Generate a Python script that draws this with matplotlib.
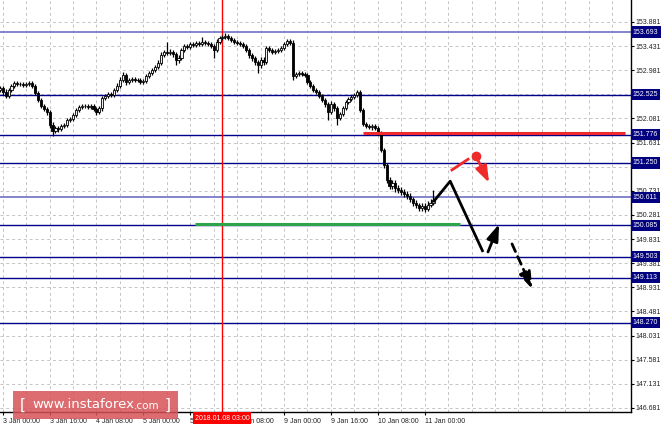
import matplotlib.pyplot as plt
from matplotlib.patches import Rectangle
import numpy as np

# H1 candles, 2 Jan 23:00 .. 11 Jan 03:00 (bar 0 = 3 Jan 00:00, weekend skipped)
first_open = 152.62
closes = [
    152.649, 152.574, 152.500, 152.612, 152.686, 152.742, 152.724, 152.724, 152.705, 152.724,
    152.742, 152.686, 152.556, 152.425, 152.313, 152.257, 152.201, 151.958, 151.846, 151.902,
    151.884, 151.940, 151.958, 152.052, 152.070, 152.145, 152.238, 152.294, 152.313, 152.313,
    152.294, 152.313, 152.257, 152.201, 152.276, 152.462, 152.500, 152.537, 152.518, 152.612,
    152.686, 152.798, 152.892, 152.761, 152.798, 152.817, 152.798, 152.798, 152.761, 152.780,
    152.873, 152.929, 152.985, 153.041, 153.116, 153.265, 153.321, 153.302, 153.321, 153.284,
    153.172, 153.209, 153.358, 153.433, 153.414, 153.470, 153.452, 153.489, 153.470, 153.508,
    153.489, 153.470, 153.433, 153.358, 153.508, 153.582, 153.601, 153.620, 153.582, 153.545,
    153.508, 153.489, 153.470, 153.433, 153.358, 153.265, 153.209, 153.134, 153.078, 153.172,
    153.134, 153.396, 153.358, 153.321, 153.340, 153.358, 153.396, 153.470, 153.526, 153.489,
    152.873, 152.910, 152.929, 152.910, 152.892, 152.761, 152.686, 152.612, 152.574, 152.500,
    152.425, 152.350, 152.201, 152.350, 152.276, 152.089, 152.164, 152.276, 152.388, 152.444,
    152.481, 152.518, 152.574, 152.238, 151.977, 151.940, 151.921, 151.940, 151.902, 151.809,
    151.492, 151.212, 150.932, 150.820, 150.876, 150.782, 150.745, 150.708, 150.670, 150.633,
    150.577, 150.502, 150.465, 150.409, 150.446, 150.390, 150.465, 150.502, 150.558,
]
upper_wick = [
    0.04, 0.03, 0.05, 0.04, 0.04, 0.03, 0.03, 0.03, 0.03, 0.03,
    0.03, 0.03, 0.03, 0.03, 0.04, 0.03, 0.03, 0.04, 0.05, 0.04,
    0.04, 0.03, 0.04, 0.03, 0.04, 0.04, 0.04, 0.03, 0.03, 0.03,
    0.03, 0.03, 0.03, 0.03, 0.04, 0.04, 0.03, 0.04, 0.03, 0.04,
    0.05, 0.05, 0.06, 0.03, 0.04, 0.03, 0.03, 0.03, 0.03, 0.03,
    0.04, 0.04, 0.04, 0.04, 0.05, 0.05, 0.04, 0.19, 0.05, 0.04,
    0.03, 0.05, 0.04, 0.04, 0.04, 0.04, 0.04, 0.04, 0.03, 0.09,
    0.03, 0.03, 0.03, 0.03, 0.05, 0.04, 0.04, 0.05, 0.03, 0.03,
    0.03, 0.03, 0.03, 0.03, 0.03, 0.03, 0.04, 0.03, 0.04, 0.05,
    0.05, 0.04, 0.03, 0.03, 0.03, 0.03, 0.04, 0.04, 0.04, 0.04,
    0.05, 0.04, 0.04, 0.04, 0.03, 0.03, 0.03, 0.03, 0.03, 0.03,
    0.03, 0.03, 0.03, 0.05, 0.03, 0.03, 0.04, 0.04, 0.04, 0.03,
    0.03, 0.03, 0.04, 0.03, 0.03, 0.04, 0.04, 0.04, 0.03, 0.03,
    0.03, 0.03, 0.03, 0.05, 0.06, 0.05, 0.06, 0.06, 0.05, 0.05,
    0.05, 0.04, 0.05, 0.04, 0.05, 0.06, 0.08, 0.07, 0.19,
]
lower_wick = [
    0.04, 0.05, 0.04, 0.03, 0.03, 0.03, 0.03, 0.03, 0.03, 0.03,
    0.03, 0.03, 0.04, 0.04, 0.04, 0.04, 0.05, 0.06, 0.10, 0.04,
    0.05, 0.04, 0.04, 0.04, 0.03, 0.03, 0.03, 0.03, 0.03, 0.03,
    0.03, 0.03, 0.03, 0.05, 0.04, 0.05, 0.03, 0.04, 0.03, 0.03,
    0.03, 0.03, 0.03, 0.05, 0.04, 0.03, 0.03, 0.03, 0.04, 0.03,
    0.03, 0.03, 0.04, 0.03, 0.04, 0.04, 0.03, 0.04, 0.04, 0.05,
    0.09, 0.05, 0.03, 0.04, 0.03, 0.04, 0.03, 0.03, 0.04, 0.03,
    0.03, 0.04, 0.04, 0.15, 0.04, 0.03, 0.03, 0.03, 0.04, 0.03,
    0.03, 0.03, 0.03, 0.04, 0.04, 0.05, 0.05, 0.06, 0.15, 0.05,
    0.06, 0.04, 0.04, 0.04, 0.03, 0.03, 0.03, 0.03, 0.03, 0.04,
    0.07, 0.04, 0.03, 0.03, 0.04, 0.04, 0.04, 0.04, 0.03, 0.04,
    0.04, 0.05, 0.15, 0.04, 0.05, 0.13, 0.04, 0.03, 0.03, 0.03,
    0.03, 0.03, 0.03, 0.03, 0.04, 0.04, 0.04, 0.05, 0.04, 0.04,
    0.04, 0.05, 0.06, 0.06, 0.05, 0.07, 0.06, 0.05, 0.05, 0.05,
    0.05, 0.05, 0.05, 0.06, 0.05, 0.06, 0.04, 0.04, 0.03,
]
first_bar = -1

# horizontal levels (right axis boxes)
levels = [153.693, 152.525, 151.776, 151.250, 150.611, 150.085, 149.503, 149.113, 148.270]
light_levels = [153.693, 150.611]

price_ticks = [146.681, 147.131, 147.581, 148.031, 148.481, 148.931, 149.381, 149.831, 150.281,
               150.731, 151.181, 151.631, 152.081, 152.531, 152.981, 153.431, 153.881]
time_ticks = [0, 16, 32, 48, 64, 80, 96, 112, 128, 144]
time_labels = ['3 Jan 00:00', '3 Jan 16:00', '4 Jan 08:00', '5 Jan 00:00', '5 Jan 16:00',
               '8 Jan 08:00', '9 Jan 00:00', '9 Jan 16:00', '10 Jan 08:00', '11 Jan 00:00']
cursor_bar = 75
cursor_label = '2018.01.08 03:00'

# forecast drawing, in (bar, price)
red_level = (123, 212.4, 151.81)
green_level = (65.6, 156.1, 150.12)
path_bars = [146.9, 152.7, 163.9]
path_prices = [150.52, 150.91, 149.59]
up_arrow = ((165.6, 149.59), (169.4, 150.11))
down_arrow = ((173.8, 149.74), (180.7, 148.90))
red_dash_bars = [153.3, 158.8]
red_dash_prices = [151.12, 151.32]
red_dot = (161.5, 151.38)
red_arrow = ((162.2, 151.30), (166.0, 150.88))

fig = plt.figure(figsize=(6.64, 4.28), dpi=100)
ax = fig.add_axes([0, 16 / 428, 631 / 664, 412 / 428])
ax.set_xlim(-0.92, 214.4)
ax.set_ylim(146.605, 154.29)

# grid
ax.set_xticks(np.arange(0, 215, 8), minor=True)
ax.grid(True, which='both', axis='x', color='#c4c4c4', linestyle=(0, (3, 3)), lw=0.7)
ax.grid(True, which='major', axis='y', color='#c4c4c4', linestyle=(0, (3, 3)), lw=0.7)
ax.set_axisbelow(True)

# candles
opens = [first_open] + closes[:-1]
bars = np.arange(first_bar, first_bar + len(closes))
for b, o, c, uw, lw_ in zip(bars, opens, closes, upper_wick, lower_wick):
    hi = max(o, c) + uw
    lo = min(o, c) - lw_
    ax.vlines(b, lo, hi, color='black', lw=0.9, zorder=3)
    fc = '#f0f0f0' if c >= o else 'black'
    ax.bar(b, abs(c - o) or 0.005, bottom=min(o, c), width=0.72, color=fc,
           edgecolor='black', linewidth=0.6, zorder=4)

# levels
for lv in levels:
    col = '#8484cc' if lv in light_levels else '#00008b'
    ax.axhline(lv, color=col, lw=1.4 if lv in light_levels else 1.0, zorder=2)

ax.axvline(cursor_bar, color='red', lw=1, zorder=2)
ax.hlines(red_level[2], red_level[0], red_level[1], color='#ee2a2a', lw=2.2, zorder=5)
ax.hlines(green_level[2], green_level[0], green_level[1], color='#2ea44a', lw=2.2, zorder=5)

# forecast arrows
head = '-|>,head_length=1.0,head_width=0.35'
ax.plot(path_bars, path_prices, color='black', lw=2, zorder=6, solid_capstyle='butt')
ax.annotate('', xy=up_arrow[1], xytext=up_arrow[0],
            arrowprops=dict(arrowstyle=head, color='black',
                            lw=2, shrinkA=0, shrinkB=0, mutation_scale=10), zorder=6)
ax.annotate('', xy=down_arrow[1], xytext=down_arrow[0],
            arrowprops=dict(arrowstyle=head, color='black',
                            lw=2, ls=(0, (3, 2)), shrinkA=0, shrinkB=0, mutation_scale=10),
            zorder=6)
ax.plot(red_dash_bars, red_dash_prices, color='#ee2a2a', lw=2, zorder=6)
ax.plot(*red_dot, 'o', color='#ee2a2a', ms=6, zorder=6)
ax.annotate('', xy=red_arrow[1], xytext=red_arrow[0],
            arrowprops=dict(arrowstyle=head, color='#ee2a2a',
                            lw=2, shrinkA=0, shrinkB=0, mutation_scale=10), zorder=6)

# axes
for s in ['left', 'top']:
    ax.spines[s].set_visible(False)
for s in ['right', 'bottom']:
    ax.spines[s].set_color('black')
    ax.spines[s].set_linewidth(1)
ax.yaxis.tick_right()
ax.set_yticks(price_ticks)
ax.set_yticklabels([f'{v:.3f}' for v in price_ticks])
ax.set_xticks(time_ticks)
ax.set_xticklabels(time_labels)
for lab in ax.get_xticklabels():
    lab.set_horizontalalignment('left')
ax.tick_params(axis='y', length=2.5, pad=1, labelsize=5, colors='black', labelcolor='#222222')
ax.tick_params(axis='x', length=2.5, pad=1.5, labelsize=5, labelcolor='#222222')
ax.tick_params(axis='x', which='minor', length=0)
for lab in ax.get_xticklabels() + ax.get_yticklabels():
    lab.set_fontfamily('Liberation Sans')

# level boxes on the price axis
for lv in levels:
    ax.text(1.003, lv, f'{lv:.3f}', transform=ax.get_yaxis_transform(), ha='left', va='center',
            fontsize=5, color='white', family='Liberation Sans', zorder=10, clip_on=False,
            bbox=dict(boxstyle='square,pad=0.3', fc='#000080', ec='none'))

# cursor time box
fig.text(222 / 664, 1 - 418 / 428, cursor_label, ha='center', va='center', fontsize=5,
         color='white', family='Liberation Sans',
         bbox=dict(boxstyle='square,pad=0.3', fc='#ff0000', ec='none'))

# watermark
fig.add_artist(Rectangle((13 / 664, 1 - 419 / 428), 165 / 664, 28 / 428,
                         transform=fig.transFigure, fc='#d65256', ec='none', alpha=0.85,
                         zorder=20))
fig.text(20 / 664, 1 - 405 / 428, '[', fontsize=11, color='white', va='center', zorder=21)
fig.text(32 / 664, 1 - 405 / 428, 'www.instaforex', fontsize=9.5, color='white', va='center',
         zorder=21)
fig.text(134 / 664, 1 - 406 / 428, '.com', fontsize=7.5, color='white', va='center', zorder=21)
fig.text(165 / 664, 1 - 405 / 428, ']', fontsize=11, color='white', va='center', zorder=21)

fig.savefig('out.png', dpi=100, facecolor='white')
